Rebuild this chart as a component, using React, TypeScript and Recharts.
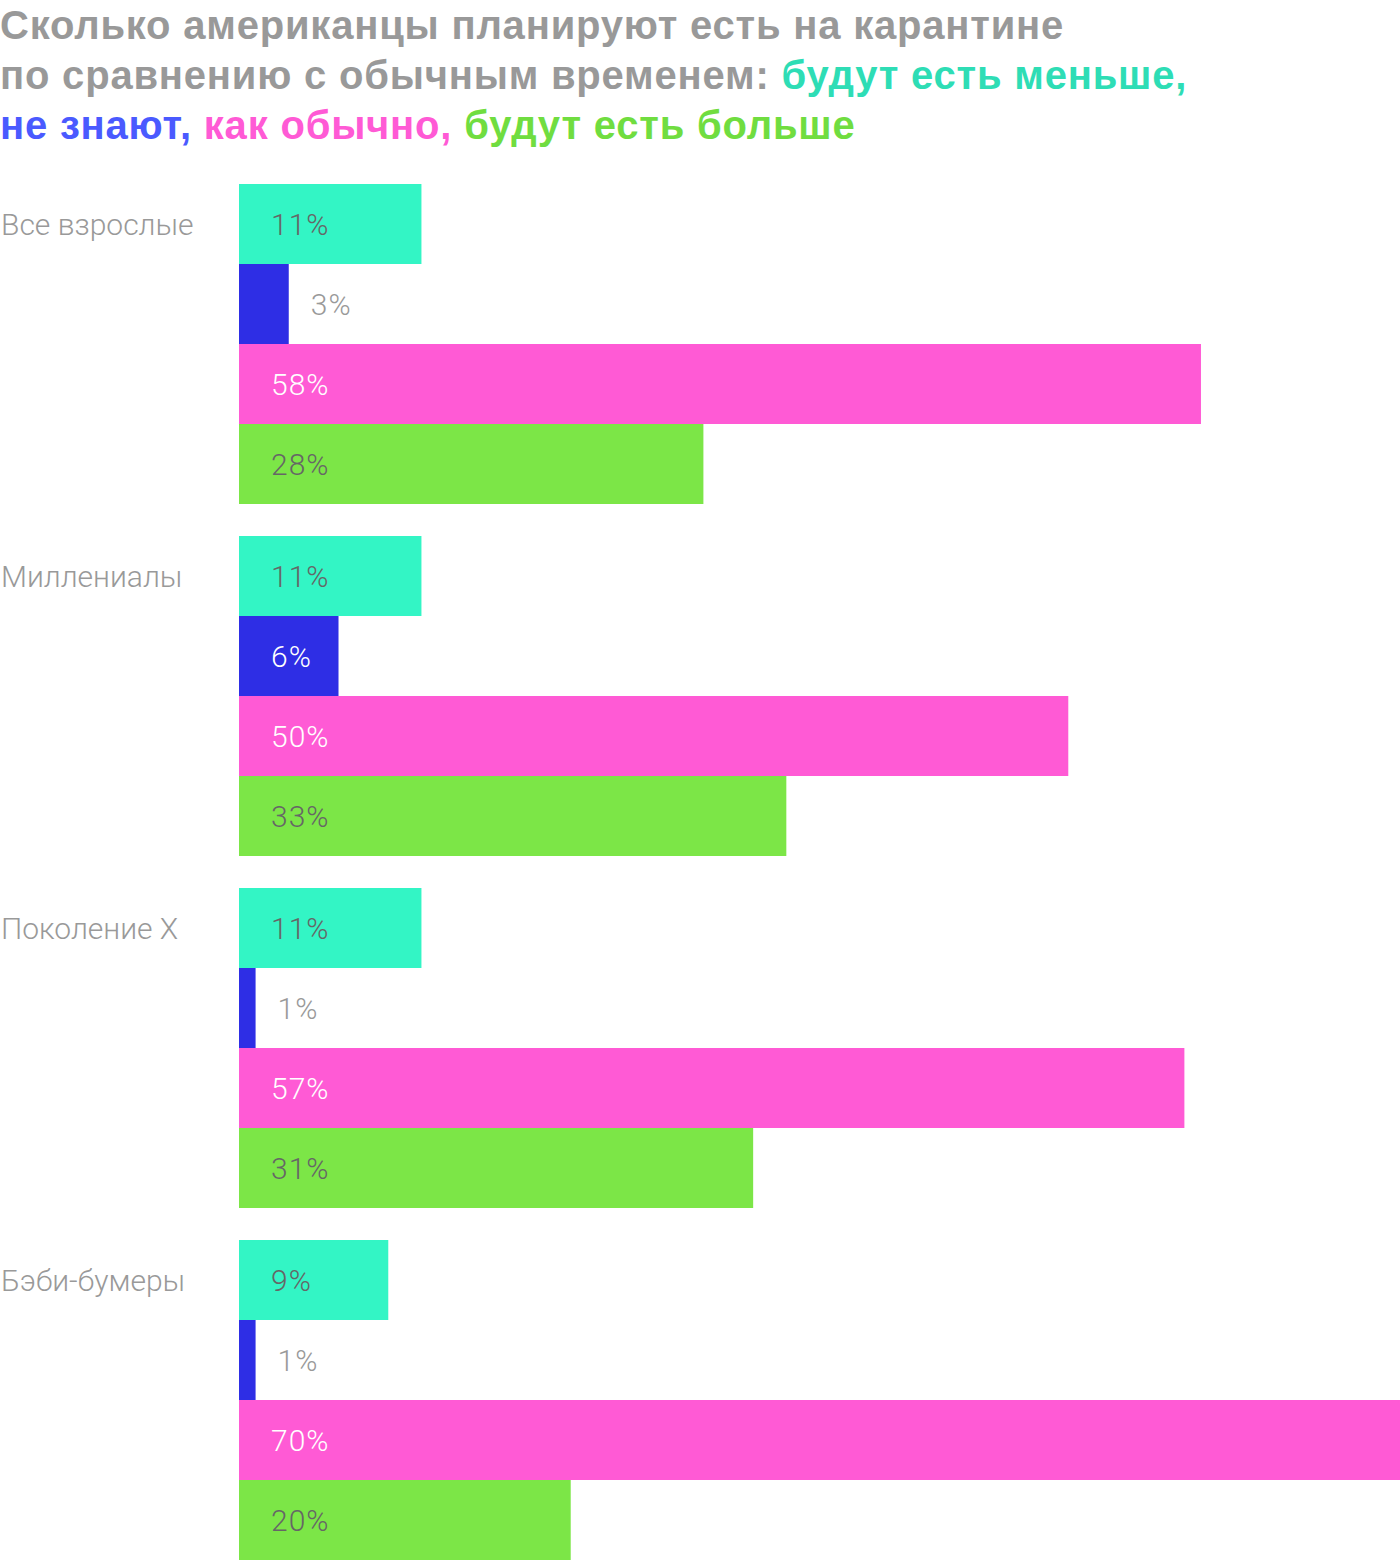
import React from "react";
import { BarChart, Bar, XAxis, YAxis, LabelList } from "recharts";

const categories = ["Все взрослые", "Миллениалы", "Поколение X", "Бэби-бумеры"];
const eatLess = [11, 11, 11, 9];
const dontKnow = [3, 6, 1, 1];
const asUsual = [58, 50, 57, 70];
const eatMore = [28, 33, 31, 20];

const data = categories.map((name, i) => ({
  name,
  less: eatLess[i],
  unknown: dontKnow[i],
  usual: asUsual[i],
  more: eatMore[i],
}));

const FONT = "Roboto, 'Noto Sans', sans-serif";
const TITLE_FONT = "'Liberation Sans', Arial, sans-serif";

const makeLabel = (insideColor: string) => (props: any) => {
  const { x, y, width, height, value } = props;
  const inside = width > 80;
  return (
    <text
      x={inside ? x + 32 : x + width + 22}
      y={y + height / 2}
      dominantBaseline="central"
      fill={inside ? insideColor : "#999999"}
      fontSize={30}
      fontWeight={300}
      letterSpacing={1}
      fontFamily={FONT}
    >
      {value}%
    </text>
  );
};

const CategoryTick = (props: any) => {
  const { y, payload } = props;
  return (
    <text
      x={1}
      y={y - 120}
      dominantBaseline="central"
      textAnchor="start"
      fill="#999999"
      fontSize={30}
      fontWeight={300}
      fontFamily={FONT}
    >
      {payload.value}
    </text>
  );
};

export default function App() {
  return (
    <div
      style={{
        position: "absolute",
        top: 0,
        left: 0,
        width: 1400,
        height: 1560,
        overflow: "hidden",
        background: "#fff",
        fontFamily: FONT,
      }}
    >
      <div
        style={{
          position: "absolute",
          top: 0,
          left: 0,
          fontFamily: TITLE_FONT,
          fontSize: 40,
          lineHeight: "50px",
          fontWeight: 700,
          letterSpacing: 0.8,
          color: "#999999",
          whiteSpace: "nowrap",
        }}
      >
        Сколько американцы планируют есть на карантине
        <br />
        по сравнению с обычным временем:{" "}
        <span style={{ color: "#2EDDB5" }}>будут есть меньше,</span>
        <br />
        <span style={{ color: "#4A5AFF" }}>не знают,</span>{" "}
        <span style={{ color: "#FF5AD5" }}>как обычно,</span>{" "}
        <span style={{ color: "#70DD40" }}>будут есть больше</span>
      </div>
      <div style={{ position: "absolute", top: 168, left: 0 }}>
        <BarChart
          width={1400}
          height={1408}
          data={data}
          layout="vertical"
          margin={{ top: 0, right: 0, left: 0, bottom: 0 }}
          barCategoryGap={16}
          barGap={0}
        >
          <XAxis type="number" domain={[0, 70]} hide />
          <YAxis
            type="category"
            dataKey="name"
            width={239}
            axisLine={false}
            tickLine={false}
            tick={<CategoryTick />}
          />
          <Bar dataKey="less" fill="#33F5C5" barSize={80} isAnimationActive={false}>
            <LabelList dataKey="less" content={makeLabel("#666666")} />
          </Bar>
          <Bar dataKey="unknown" fill="#2E2EE5" barSize={80} isAnimationActive={false}>
            <LabelList dataKey="unknown" content={makeLabel("#ffffff")} />
          </Bar>
          <Bar dataKey="usual" fill="#FF5AD5" barSize={80} isAnimationActive={false}>
            <LabelList dataKey="usual" content={makeLabel("#ffffff")} />
          </Bar>
          <Bar dataKey="more" fill="#7CE647" barSize={80} isAnimationActive={false}>
            <LabelList dataKey="more" content={makeLabel("#666666")} />
          </Bar>
        </BarChart>
      </div>
    </div>
  );
}
